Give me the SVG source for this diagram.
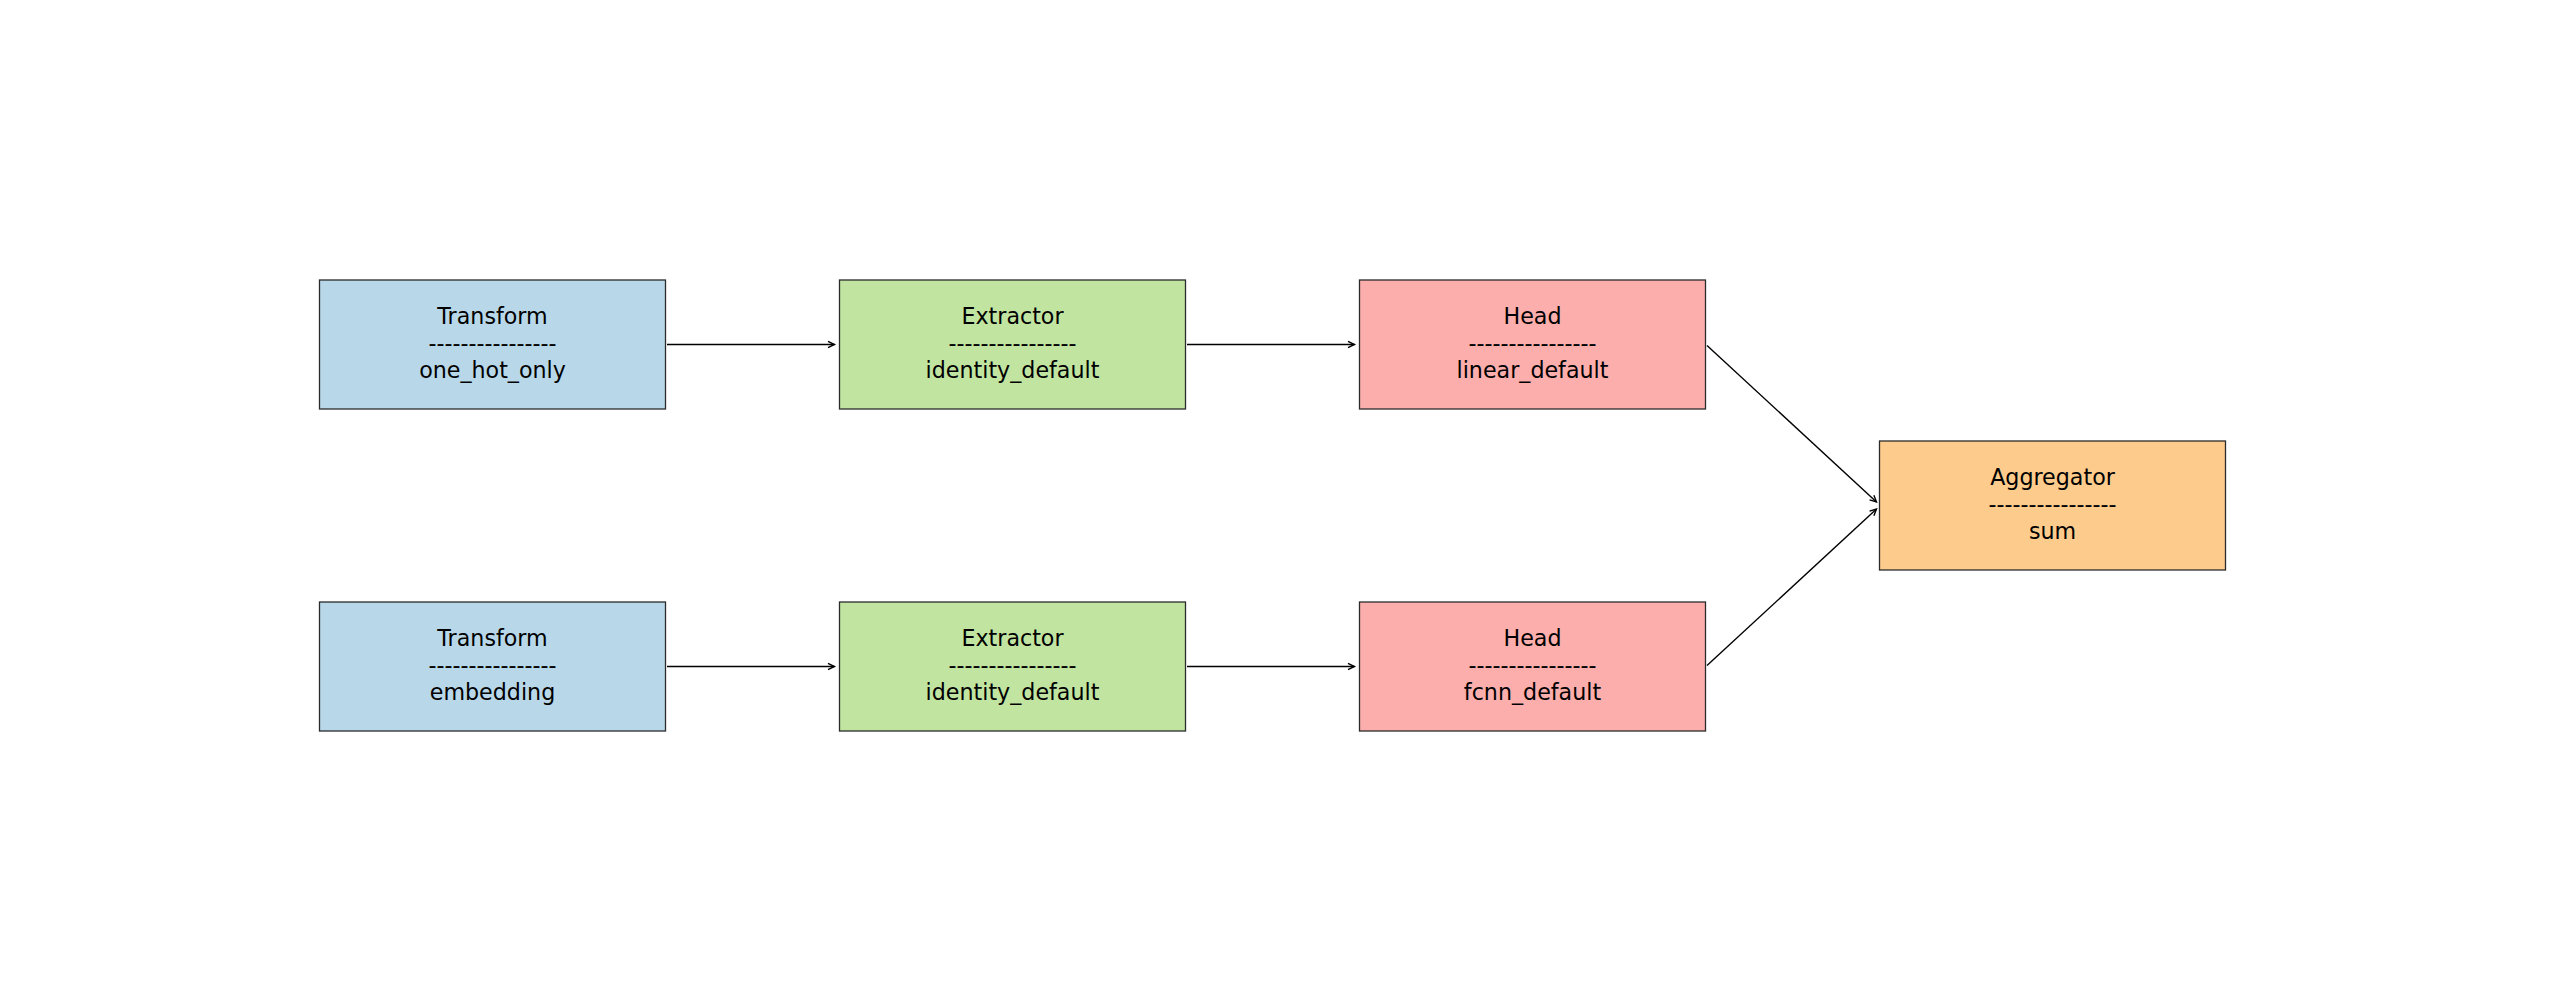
<svg xmlns="http://www.w3.org/2000/svg" width="2550" height="1000" viewBox="0 0 2550 1000">
  <style>
    .box { stroke: #2b2b2b; stroke-width: 1.3; }
    .transform { fill: #b8d8e9; }
    .extractor { fill: #c1e5a1; }
    .head { fill: #fcaead; }
    .aggregator { fill: #fdcc8c; }
    .label { font-family: "DejaVu Sans", "Liberation Sans", sans-serif; font-size: 22.2px; fill: #000; text-anchor: middle; }
    .edge { stroke: #000; stroke-width: 1.4; fill: none; marker-end: url(#arrow); }
  </style>
  <defs>
    <marker id="arrow" markerUnits="userSpaceOnUse" markerWidth="14" markerHeight="14" viewBox="-10 -7 14 14" refX="0" refY="0" orient="auto" overflow="visible">
      <path d="M-6.5,-3.2 L0,0 L-6.5,3.2" fill="none" stroke="#000" stroke-width="1.4"/>
    </marker>
  </defs>
  <rect width="2550" height="1000" fill="#fff"/>

  <!-- connectors -->
  <g id="connectors">
    <line class="edge" x1="667" y1="344.5" x2="834.5" y2="344.5"/>
    <line class="edge" x1="1187" y1="344.5" x2="1354.5" y2="344.5"/>
    <line class="edge" x1="667" y1="666.5" x2="834.5" y2="666.5"/>
    <line class="edge" x1="1187" y1="666.5" x2="1354.5" y2="666.5"/>
    <line class="edge" x1="1707" y1="345.5" x2="1876.5" y2="502"/>
    <line class="edge" x1="1707" y1="665.5" x2="1876.5" y2="509"/>
  </g>

  <!-- top pipeline -->
  <g id="transform-one-hot">
    <rect class="box transform" x="319.5" y="280" width="346" height="129"/>
    <text class="label" x="492.5" y="324">Transform</text>
    <text class="label" x="492.5" y="351">----------------</text>
    <text class="label" x="492.5" y="378">one_hot_only</text>
  </g>
  <g id="extractor-top">
    <rect class="box extractor" x="839.5" y="280" width="346" height="129"/>
    <text class="label" x="1012.5" y="324">Extractor</text>
    <text class="label" x="1012.5" y="351">----------------</text>
    <text class="label" x="1012.5" y="378">identity_default</text>
  </g>
  <g id="head-linear">
    <rect class="box head" x="1359.5" y="280" width="346" height="129"/>
    <text class="label" x="1532.5" y="324">Head</text>
    <text class="label" x="1532.5" y="351">----------------</text>
    <text class="label" x="1532.5" y="378">linear_default</text>
  </g>

  <!-- bottom pipeline -->
  <g id="transform-embedding">
    <rect class="box transform" x="319.5" y="602" width="346" height="129"/>
    <text class="label" x="492.5" y="646">Transform</text>
    <text class="label" x="492.5" y="673">----------------</text>
    <text class="label" x="492.5" y="700">embedding</text>
  </g>
  <g id="extractor-bottom">
    <rect class="box extractor" x="839.5" y="602" width="346" height="129"/>
    <text class="label" x="1012.5" y="646">Extractor</text>
    <text class="label" x="1012.5" y="673">----------------</text>
    <text class="label" x="1012.5" y="700">identity_default</text>
  </g>
  <g id="head-fcnn">
    <rect class="box head" x="1359.5" y="602" width="346" height="129"/>
    <text class="label" x="1532.5" y="646">Head</text>
    <text class="label" x="1532.5" y="673">----------------</text>
    <text class="label" x="1532.5" y="700">fcnn_default</text>
  </g>

  <!-- aggregator -->
  <g id="aggregator">
    <rect class="box aggregator" x="1879.5" y="441" width="346" height="129"/>
    <text class="label" x="2052.5" y="485">Aggregator</text>
    <text class="label" x="2052.5" y="512">----------------</text>
    <text class="label" x="2052.5" y="539">sum</text>
  </g>
</svg>
